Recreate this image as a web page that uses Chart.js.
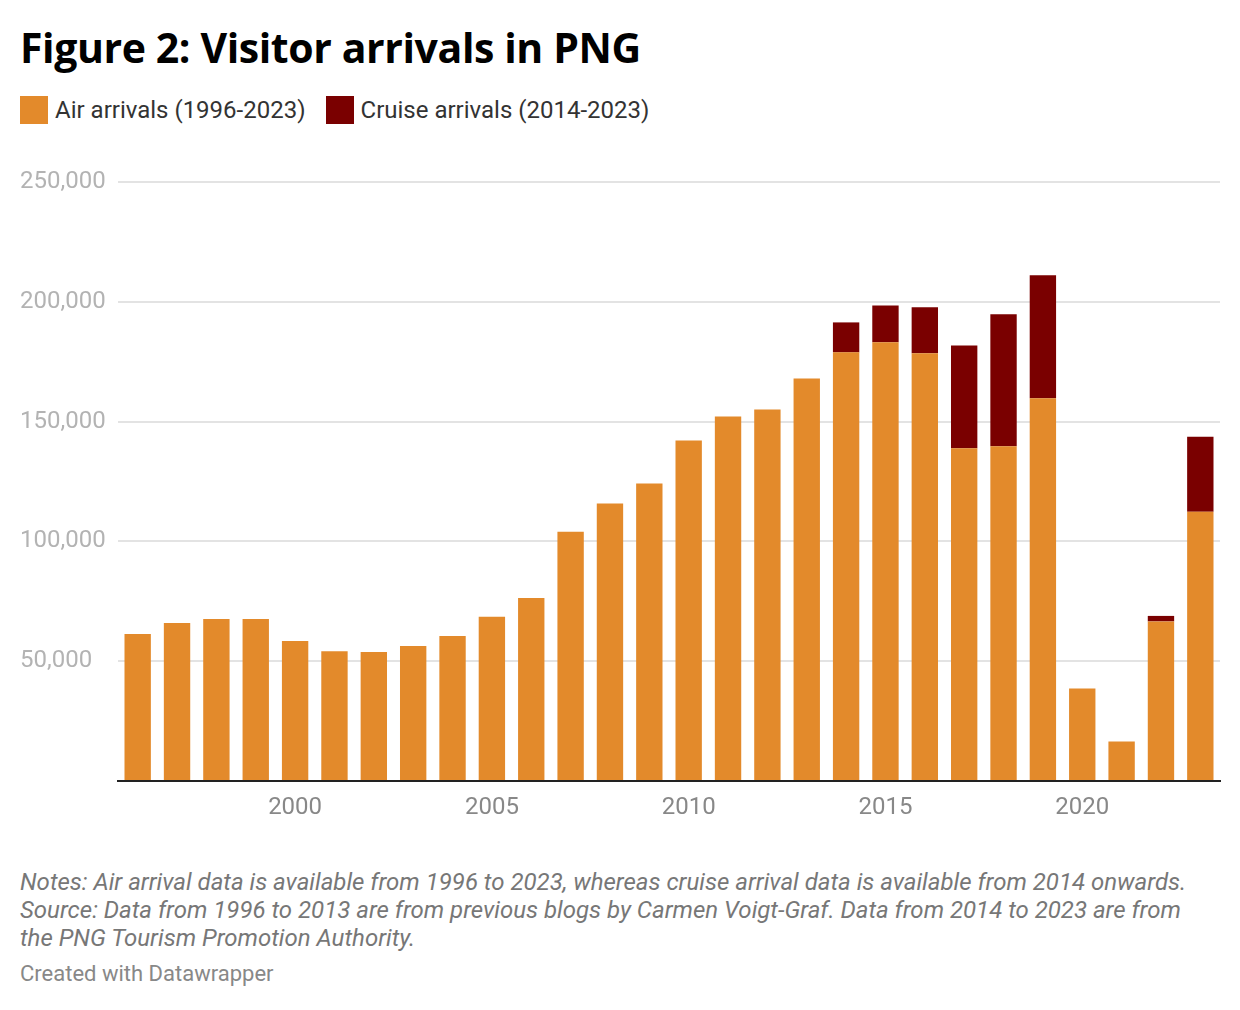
<!DOCTYPE html>
<html>
<head>
<meta charset="utf-8">
<script src="https://cdn.jsdelivr.net/npm/chart.js@4.4.1/dist/chart.umd.min.js"></script>
<style>
  html, body { margin: 0; padding: 0; background: #fff; }
  body { width: 1240px; height: 1010px; position: relative; overflow: hidden; font-family: Roboto, sans-serif; }
  #title { position: absolute; left: 20px; top: 19px; font-family: "Open Sans", sans-serif; font-weight: 700; font-size: 41px; line-height: 56px; color: #000; letter-spacing: -0.4px; }
  #legend { position: absolute; left: 20px; top: 96px; font-size: 24px; color: #333; display: flex; align-items: center; }
  #legend .sw { display: inline-block; width: 28px; height: 28px; margin-right: 7px; }
  #legend .item { display: flex; align-items: center; margin-right: 20px; }
  #wrap { position: absolute; left: 0; top: 160px; width: 1240px; height: 670px; }
  #notes { position: absolute; left: 20px; top: 868px; font-size: 24px; line-height: 28px; color: #777; font-style: italic; width: 1220px; white-space: nowrap; }
  #credit { position: absolute; left: 20px; top: 961px; font-size: 22px; line-height: 26px; color: #888; }
</style>
</head>
<body>
<div id="title">Figure 2: Visitor arrivals in PNG</div>
<div id="legend">
  <div class="item"><span class="sw" style="background:#e38a2b"></span>Air arrivals (1996-2023)</div>
  <div class="item"><span class="sw" style="background:#7a0000"></span>Cruise arrivals (2014-2023)</div>
</div>
<div id="wrap"><canvas id="chart"></canvas></div>
<div id="notes">Notes: Air arrival data is available from 1996 to 2023, whereas cruise arrival data is available from 2014 onwards.<br>Source: Data from 1996 to 2013 are from previous blogs by Carmen Voigt-Graf. Data from 2014 to 2023 are from<br>the PNG Tourism Promotion Authority.</div>
<div id="credit">Created with Datawrapper</div>
<script>
var years = ['1996','1997','1998','1999','2000','2001','2002','2003','2004','2005','2006','2007','2008','2009',
             '2010','2011','2012','2013','2014','2015','2016','2017','2018','2019','2020','2021','2022','2023'];
var airArrivals = [61400, 65900, 67600, 67600, 58400, 54200, 53800, 56300, 60500, 68500, 76400, 104000, 115800, 124200,
                   142100, 152100, 155000, 168000, 178900, 183100, 178500, 138900, 139700, 159700, 38600, 16500, 66600, 112400];
var cruiseArrivals = [null, null, null, null, null, null, null, null, null, null, null, null, null, null,
                      null, null, null, null, 12500, 15400, 19200, 42900, 55100, 51400, null, null, 2300, 31300];
var yTicks = [0, 50000, 100000, 150000, 200000, 250000];

var ctx = document.getElementById('chart');
new Chart(ctx, {
  type: 'bar',
  data: {
    labels: years,
    datasets: [
      { label: 'Air arrivals (1996-2023)', data: airArrivals, backgroundColor: '#e38a2b',
        categoryPercentage: 1, barPercentage: 0.67 },
      { label: 'Cruise arrivals (2014-2023)', data: cruiseArrivals, backgroundColor: '#7a0000',
        categoryPercentage: 1, barPercentage: 0.67 }
    ]
  },
  options: {
    responsive: true,
    maintainAspectRatio: false,
    animation: false,
    layout: { padding: { left: 20, right: 20, top: 22, bottom: 0 } },
    plugins: { legend: { display: false }, tooltip: { enabled: false } },
    scales: {
      x: {
        stacked: true,
        grid: { display: false, drawTicks: false },
        border: { color: '#222', width: 2 },
        ticks: {
          autoSkip: false, maxRotation: 0, padding: 13,
          color: '#888', font: { family: 'Roboto', size: 24 },
          callback: function (v, i) { var y = years[i]; return (+y % 5 === 0) ? y : ''; }
        },
        afterFit: function (s) { s.height = 49; }
      },
      y: {
        stacked: true,
        min: yTicks[0], max: yTicks[yTicks.length - 1],
        afterBuildTicks: function (s) { s.ticks = yTicks.map(function (v) { return { value: v }; }); },
        grid: { color: '#e3e3e3', lineWidth: 2, drawTicks: false },
        border: { display: false },
        ticks: {
          crossAlign: 'far', padding: 0,
          color: '#b3b3b3', font: { family: 'Roboto', size: 24 },
          callback: function (v) { return v === 0 ? '' : v.toLocaleString('en-US'); }
        },
        afterFit: function (s) { s.width = 98; }
      }
    }
  }
});
</script>
</body>
</html>
